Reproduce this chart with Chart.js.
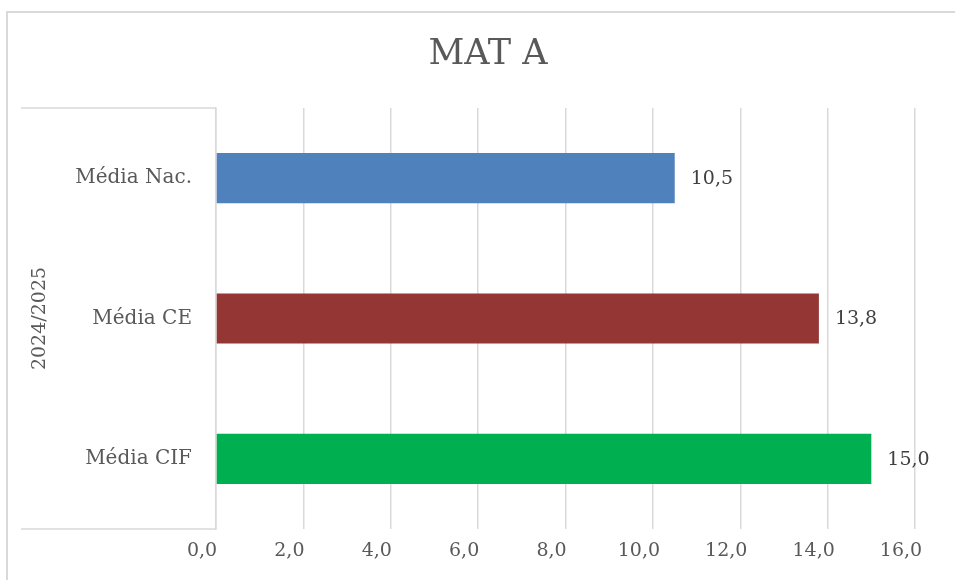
<!DOCTYPE html>
<html>
<head>
<meta charset="utf-8">
<script src="https://cdn.jsdelivr.net/npm/chart.js@4.4.1/dist/chart.umd.min.js"></script>
<style>
    html, body { margin: 0; padding: 0; background: #fff; }
    #wrap { position: relative; width: 955px; height: 580px; }
</style>
</head>
<body>
<div id="wrap"><canvas id="matChart" width="955" height="580"></canvas></div>
<script>
    const categories = ["Média Nac.", "Média CE", "Média CIF"];
    const values = [10.5, 13.8, 15.0];
    const barColors = ["#4f81bd", "#943634", "#00b050"];
    const groupLabel = "2024/2025";
    const chartTitle = "MAT A";
    const xMin = 0, xMax = 16, xStep = 2;

    const serif = "'DejaVu Serif', 'Liberation Serif', serif";
    const fmt = v => v.toFixed(1).replace(".", ",");

    // frame, title, category box and value labels
    const decorations = {
        id: "decorations",
        beforeDraw(chart) {
            const c = chart.ctx;
            c.save();
            c.strokeStyle = "#d9d9d9";
            c.lineWidth = 2;
            c.strokeRect(7, 12, 960, 600);
            // title, centred on the outer frame like the original
            c.fillStyle = "#595959";
            c.font = "35px " + serif;
            c.textAlign = "center";
            c.textBaseline = "middle";
            c.fillText(chartTitle, 488, 55);
            c.restore();
        },
        afterDatasetsDraw(chart) {
            const c = chart.ctx;
            const area = chart.chartArea;
            c.save();
            // multi-level category box
            c.strokeStyle = "#d9d9d9";
            c.lineWidth = 1.5;
            c.beginPath();
            c.moveTo(21, area.top);
            c.lineTo(area.left, area.top);
            c.moveTo(21, area.bottom);
            c.lineTo(area.left, area.bottom);
            c.stroke();
            // value labels
            c.fillStyle = "#404040";
            c.font = "19px " + serif;
            c.textAlign = "left";
            c.textBaseline = "middle";
            chart.getDatasetMeta(0).data.forEach((bar, i) => {
                c.fillText(fmt(values[i]), bar.x + 16, bar.y + 1);
            });
            c.restore();
        }
    };

    new Chart(document.getElementById("matChart"), {
        type: "bar",
        data: {
            labels: categories,
            datasets: [{
                data: values,
                backgroundColor: barColors,
                borderWidth: 0,
                barPercentage: 0.357,
                categoryPercentage: 1
            }]
        },
        options: {
            indexAxis: "y",
            responsive: false,
            animation: false,
            layout: { padding: { left: 0, right: 40, top: 108, bottom: 0 } },
            plugins: {
                legend: { display: false },
                tooltip: { enabled: false },
                title: { display: false }
            },
            scales: {
                x: {
                    min: xMin,
                    max: xMax,
                    ticks: {
                        stepSize: xStep,
                        color: "#595959",
                        font: { family: serif, size: 19 },
                        padding: 11,
                        labelOffset: -14,
                        callback: v => fmt(v)
                    },
                    grid: { color: "#d9d9d9", lineWidth: 1.5, drawTicks: false },
                    border: { display: false },
                    afterFit: s => { s.height = 51; }
                },
                y: {
                    ticks: {
                        color: "#595959",
                        font: { family: serif, size: 20 },
                        padding: 24
                    },
                    grid: { display: false, drawTicks: false },
                    border: { color: "#d9d9d9", width: 1.5 },
                    title: {
                        display: true,
                        text: groupLabel,
                        color: "#595959",
                        font: { family: serif, size: 19 },
                        padding: { top: 29, bottom: 0 }
                    },
                    afterFit: s => { s.width = 216; }
                }
            }
        },
        plugins: [decorations]
    });
</script>
</body>
</html>
